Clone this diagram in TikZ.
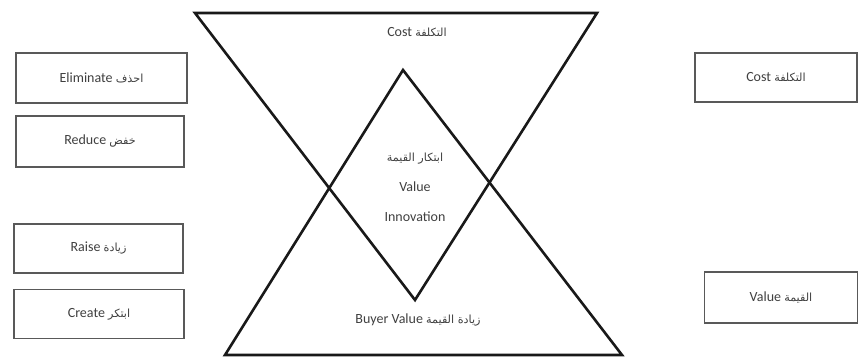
\documentclass[tikz,border=0pt]{standalone}
\usepackage{fontspec}
\setmainfont{Carlito}
\newfontfamily\arabicfont[Script=Arabic,Scale=0.8]{DejaVu Sans}
\TeXXeTstate=1
\newcommand{\artxt}[1]{{\arabicfont\beginR #1\endR}}
\begin{document}
\begin{tikzpicture}[x=1pt,y=-1pt,
  tri/.style={line width=2.6pt,line join=miter,draw=black!90},
  actbox/.style={draw=black!65,line width=1.1pt,inner sep=0pt,minimum width=#1},
  lbl/.style={text=black!75,font=\fontsize{14}{30}\selectfont,inner sep=0pt,align=center}]
\useasboundingbox[fill=white] (0,0) rectangle (859,358);
% triangles
\draw[tri] (195,13) -- (597,13) -- (415,300) -- cycle;
\draw[tri] (403,70) -- (225,355) -- (622,355) -- cycle;
% left boxes
\node[actbox=171pt,minimum height=50pt,lbl] (elim) at (101.5,78) {Eliminate \artxt{احذف}};
\node[actbox=168pt,minimum height=51pt,lbl] (red) at (100,141.5) {Reduce \artxt{خفض}};
\node[actbox=169pt,minimum height=49pt,lbl] (raise) at (98.5,248.5) {Raise \artxt{زيادة}};
\node[actbox=170pt,minimum height=49pt,lbl] (create) at (99,314) {Create \artxt{ابتكر}};
% right boxes
\node[actbox=162pt,minimum height=49pt,lbl] (costbox) at (776,77.5) {Cost \artxt{التكلفة}};
\node[actbox=153pt,minimum height=51pt,lbl] (valbox) at (781,297.5) {Value \artxt{القيمة}};
% labels in triangles
\node[lbl] (costlbl) at (417,32) {Cost \artxt{التكلفة}};
\node[lbl] (vi) at (415,187) {\artxt{ابتكار القيمة}\\Value\\Innovation};
\node[lbl] (buyer) at (418,320) {Buyer Value \artxt{زيادة القيمة}};
\end{tikzpicture}
\end{document}
